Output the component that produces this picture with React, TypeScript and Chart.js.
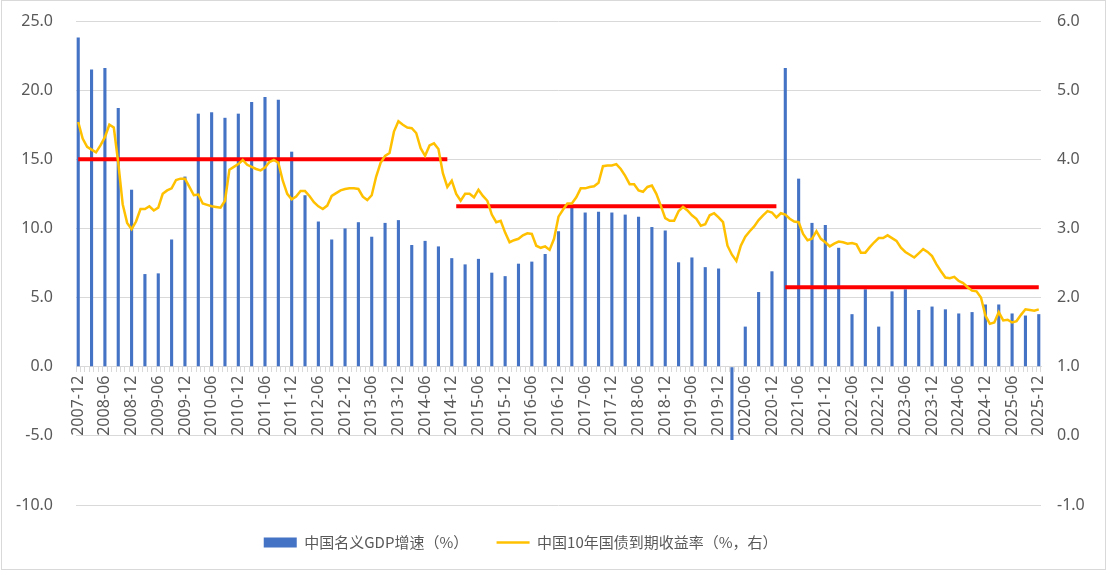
import React, { useEffect, useRef } from "react";
import { Chart, registerables } from "chart.js";

Chart.register(...registerables);

// monthly categories 2007-12 .. 2025-12
const months: string[] = [];
for (let i = 0; i < 217; i++) {
  const t = 2007 * 12 + 11 + i;
  const y = Math.floor(t / 12);
  const m = (t % 12) + 1;
  months.push(`${y}-${String(m).padStart(2, "0")}`);
}

// 中国名义GDP增速（%），quarterly 2007-12 .. 2025-12
const gdpQuarterly: number[] = [
  23.8, 21.5, 21.6, 18.7, 12.8, 6.7, 6.75, 9.2, 13.75, 18.3, 18.4, 18.0,
  18.3, 19.15, 19.5, 19.3, 15.55, 12.4, 10.5, 9.2, 10.0, 10.45, 9.4, 10.4,
  10.6, 8.8, 9.1, 8.7, 7.85, 7.4, 7.8, 6.8, 6.55, 7.45, 7.6, 8.15,
  9.8, 11.55, 11.15, 11.2, 11.15, 11.0, 10.85, 10.1, 9.85, 7.55, 7.9, 7.2,
  7.1, -5.3, 2.9, 5.4, 6.9, 21.6, 13.6, 10.4, 10.25, 8.6, 3.8, 5.6,
  2.9, 5.45, 5.6, 4.1, 4.35, 4.15, 3.85, 3.95, 4.5, 4.5, 3.85, 3.7,
  3.8,
];

// 中国10年国债到期收益率（%），monthly 2007-12 .. 2025-12
const yield10y: number[] = [
  4.54, 4.3, 4.18, 4.14, 4.1, 4.2, 4.32, 4.5, 4.46, 3.95, 3.35, 3.08,
  2.99, 3.1, 3.28, 3.28, 3.32, 3.26, 3.3, 3.5, 3.55, 3.58, 3.7, 3.72,
  3.72, 3.6, 3.48, 3.49, 3.36, 3.34, 3.32, 3.31, 3.3, 3.4, 3.85, 3.89,
  3.93, 3.99, 3.92, 3.89, 3.86, 3.84, 3.88, 3.96, 3.99, 3.95, 3.69, 3.5,
  3.42, 3.46, 3.54, 3.54, 3.47, 3.38, 3.32, 3.28, 3.33, 3.47, 3.51, 3.55,
  3.57, 3.58, 3.58, 3.57, 3.46, 3.41, 3.48, 3.75, 3.95, 4.05, 4.09, 4.4,
  4.55, 4.5, 4.46, 4.45, 4.38, 4.16, 4.05, 4.2, 4.23, 4.15, 3.8, 3.6,
  3.69, 3.5, 3.4, 3.5, 3.5, 3.45, 3.56, 3.47, 3.4, 3.2, 3.09, 3.11,
  2.94, 2.8, 2.83, 2.85, 2.9, 2.93, 2.92, 2.75, 2.72, 2.74, 2.69, 2.85,
  3.17, 3.27, 3.36, 3.36, 3.45, 3.58, 3.58, 3.6, 3.61, 3.66, 3.9, 3.91,
  3.91, 3.93, 3.86, 3.76, 3.64, 3.64, 3.55, 3.53, 3.6, 3.62, 3.5, 3.33,
  3.15, 3.11, 3.11, 3.25, 3.31, 3.26, 3.19, 3.14, 3.04, 3.06, 3.19, 3.22,
  3.16, 3.09, 2.75, 2.62, 2.53, 2.75, 2.88, 2.96, 3.03, 3.12, 3.19, 3.25,
  3.23, 3.16, 3.22, 3.2, 3.14, 3.1, 3.09, 2.92, 2.83, 2.85, 2.96, 2.85,
  2.8, 2.74, 2.78, 2.81, 2.8, 2.78, 2.79, 2.77, 2.65, 2.65, 2.73, 2.8,
  2.86, 2.86, 2.9, 2.86, 2.82, 2.72, 2.66, 2.62, 2.58, 2.64, 2.7, 2.66,
  2.6, 2.48, 2.38, 2.29, 2.28, 2.3, 2.24, 2.21, 2.15, 2.1, 2.09, 2.0,
  1.74, 1.62, 1.64, 1.79, 1.67, 1.68, 1.64, 1.66, 1.75, 1.83, 1.82, 1.81,
  1.83,
];

// red reference levels (right axis) and their month-index ranges
const levelValues: number[] = [4.0, 3.32, 2.15];
const levelStarts: number[] = [0, 85, 159];
const levelEnds: number[] = [83, 157, 216];

const gdpLabel = "中国名义GDP增速（%）";
const yieldLabel = "中国10年国债到期收益率（%，右）";

const BLUE = "#4472C4";
const YELLOW = "#FFC000";
const RED = "#FF0000";
const GRID = "#D9D9D9";
const TEXT = "#595959";
const LATIN = "'Noto Sans', 'Open Sans', sans-serif";
const CJK = "'Noto Sans CJK SC', 'Noto Sans', sans-serif";

const hiddenAxis = (axis: "x" | "y", position: string, size: number, weight: number) => ({
  type: "linear",
  axis,
  position,
  weight,
  display: true,
  grid: { display: false, drawTicks: false },
  border: { display: false },
  ticks: { display: false, padding: 0 },
  afterFit: (s: any) => {
    if (axis === "x") s.height = size;
    else s.width = size;
  },
});

export default function App() {
  const ref = useRef<HTMLCanvasElement | null>(null);

  useEffect(() => {
    if (!ref.current) return;
    const gdpMonthly = months.map((_, i) =>
      i % 3 === 0 ? gdpQuarterly[i / 3] ?? null : null
    );
    const levelSets = levelValues.map((v, k) => ({
      type: "line" as const,
      label: `level${k}`,
      data: months.map((_, i) =>
        i >= levelStarts[k] && i <= levelEnds[k] ? v : null
      ),
      borderColor: RED,
      backgroundColor: RED,
      borderWidth: 4,
      pointRadius: 0,
      yAxisID: "y2",
      xAxisID: "x",
      order: 2,
    }));

    const chart = new Chart(ref.current, {
      type: "bar",
      data: {
        labels: months,
        datasets: [
          {
            type: "bar",
            label: gdpLabel,
            data: gdpMonthly,
            backgroundColor: BLUE,
            barPercentage: 0.7,
            categoryPercentage: 1,
            yAxisID: "y",
            xAxisID: "x",
            order: 3,
          },
          {
            type: "line",
            label: yieldLabel,
            data: yield10y,
            borderColor: YELLOW,
            backgroundColor: YELLOW,
            borderWidth: 2.5,
            pointRadius: 0,
            tension: 0,
            yAxisID: "y2",
            xAxisID: "x",
            order: 1,
          },
          ...levelSets,
        ] as any,
      },
      options: {
        animation: false,
        responsive: true,
        maintainAspectRatio: false,
        layout: { padding: { top: 21, left: 0, right: 0, bottom: 12 } },
        plugins: {
          tooltip: { enabled: false },
          legend: {
            position: "bottom",
            labels: {
              usePointStyle: true,
              pointStyleWidth: 33,
              boxWidth: 33,
              boxHeight: 10,
              padding: 10,
              color: TEXT,
              font: { size: 15, family: CJK },
              generateLabels: () => [
                {
                  text: gdpLabel + "\u3000\u2002 ",
                  fillStyle: BLUE,
                  strokeStyle: BLUE,
                  lineWidth: 0,
                  pointStyle: "rect",
                  datasetIndex: 0,
                  hidden: false,
                  fontColor: TEXT,
                },
                {
                  text: yieldLabel + "\u3000\u3000\u3000\u3000\u2002  ",
                  fillStyle: YELLOW,
                  strokeStyle: YELLOW,
                  lineWidth: 2.5,
                  pointStyle: "line",
                  datasetIndex: 1,
                  hidden: false,
                  fontColor: TEXT,
                },
              ],
            },
          },
        },
        scales: {
          x: {
            type: "category",
            offset: true,
            position: { y: 0 } as any,
            grid: {
              drawOnChartArea: false,
              drawTicks: true,
              tickLength: 5,
              color: GRID,
            },
            border: { color: GRID, width: 1 },
            ticks: {
              autoSkip: false,
              minRotation: 90,
              maxRotation: 90,
              padding: 4,
              color: TEXT,
              font: { size: 16, family: LATIN },
              callback: (_v: any, i: number) => (i % 6 === 0 ? months[i] : ""),
            },
          },
          xPad: hiddenAxis("x", "bottom", 20, 0),
          yPadL: hiddenAxis("y", "left", 23, 0),
          yPadR: hiddenAxis("y", "right", 16, 0),
          y: {
            position: "left",
            weight: 1,
            min: -10,
            max: 25,
            ticks: {
              stepSize: 5,
              padding: 0,
              color: TEXT,
              font: { size: 16, family: LATIN },
              callback: (v: any) => Number(v).toFixed(1),
            },
            grid: { color: GRID, drawTicks: false },
            border: { display: false },
            afterFit: (s: any) => {
              s.width = 53;
            },
          },
          y2: {
            position: "right",
            weight: 1,
            min: -1,
            max: 6,
            ticks: {
              stepSize: 1,
              padding: 0,
              color: TEXT,
              font: { size: 16, family: LATIN },
              callback: (v: any) => Number(v).toFixed(1),
            },
            grid: { drawOnChartArea: false, drawTicks: false },
            border: { display: false },
            afterFit: (s: any) => {
              s.width = 51;
            },
          },
        } as any,
      },
    });
    return () => chart.destroy();
  }, []);

  return (
    <div
      style={{
        position: "fixed",
        left: 0,
        top: 0,
        width: 1108,
        height: 572,
        background: "#fff",
      }}
    >
      <canvas ref={ref} />
      <div
        style={{
          position: "absolute",
          left: 1,
          top: 0,
          width: 1103,
          height: 568,
          border: `1px solid ${GRID}`,
          pointerEvents: "none",
        }}
      />
    </div>
  );
}
